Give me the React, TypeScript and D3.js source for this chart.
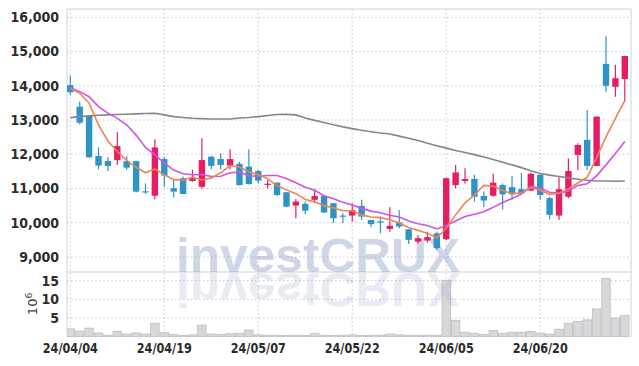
import React from "react";
import * as d3 from "d3";

const dates = [
  "24/04/04","24/04/05","24/04/08","24/04/09","24/04/11","24/04/12","24/04/15","24/04/16","24/04/17","24/04/18",
  "24/04/19","24/04/22","24/04/23","24/04/24","24/04/25","24/04/26","24/04/29","24/04/30","24/05/02","24/05/03",
  "24/05/07","24/05/08","24/05/09","24/05/10","24/05/13","24/05/14","24/05/16","24/05/17","24/05/20","24/05/21",
  "24/05/22","24/05/23","24/05/24","24/05/27","24/05/28","24/05/29","24/05/30","24/05/31","24/06/03","24/06/04",
  "24/06/05","24/06/07","24/06/10","24/06/11","24/06/12","24/06/13","24/06/14","24/06/17","24/06/18","24/06/19",
  "24/06/20","24/06/21","24/06/24","24/06/25","24/06/26","24/06/27","24/06/28","24/07/01","24/07/02","24/07/03",
];

const opens = [
  14020,13390,13120,11950,11800,11830,11800,11800,10920,10790,
  11860,11010,11300,11220,11050,11930,11860,11670,11720,11640,
  11510,11120,11170,10890,10500,10550,10670,10780,10570,10210,
  10210,10490,10080,10040,9820,10010,9810,9450,9480,9690,
  9520,11100,11220,11280,10780,10790,11100,11040,10980,10940,
  11400,10720,10210,10760,11980,12420,11660,14640,13970,14200,
];
const closes = [
  13810,12920,11910,11670,11660,12240,11610,10910,10900,12200,
  11380,10910,10840,11300,11830,11660,11690,11860,11100,11130,
  11230,11140,10810,10470,10620,10350,10780,10300,10130,10190,
  10370,10180,9960,10030,9910,9890,9500,9550,9580,9260,
  11300,11470,11280,10760,10650,11170,10830,10830,10860,11430,
  10810,10230,10980,11510,12270,11660,13100,14000,14220,14870,
];
const highs = [
  14310,13540,13150,12200,11910,12640,11950,11810,11150,12440,
  11930,11250,11350,11550,12470,11950,12030,12150,11780,12150,
  11540,11250,11180,10900,10700,10620,10980,10800,10580,10280,
  10570,10670,10090,10180,10450,10370,9820,9640,9740,9740,
  11320,11690,11590,11400,10910,11430,11150,11370,11450,11460,
  11420,10760,11330,11880,12320,13290,13100,15450,14610,14880,
];
const lows = [
  13730,12880,11900,11560,11510,11690,11540,10880,10840,10690,
  11050,10740,10840,11200,10990,11560,11560,11560,11090,11120,
  11150,11010,10780,10450,10130,10250,10570,10290,9990,9990,
  10040,10080,9870,9690,9740,9840,9380,9400,9420,9210,
  9500,11010,11150,10620,10450,10760,10390,10670,10810,10930,
  10670,10100,10080,10720,11540,11540,11650,13810,13680,13540,
];
// volume in millions
const volumes = [
  2.1,1.5,2.3,1.0,0.4,1.4,0.7,1.0,0.7,3.6,
  1.1,0.6,0.3,0.5,3.1,0.7,0.6,0.8,0.9,1.8,
  0.5,0.4,0.4,0.3,0.4,0.3,0.8,0.4,0.3,0.4,
  0.5,0.3,0.4,0.4,0.7,0.5,0.4,0.4,0.4,0.4,
  15.1,4.4,1.2,0.9,0.6,1.7,0.9,1.2,1.2,1.4,
  1.0,0.7,2.0,3.6,4.1,4.5,7.4,15.6,5.0,5.7,
];
const ma5 = [
  13930,13780,13490,12860,12390,12080,11820,11620,11460,11570,
  11400,11260,11250,11330,11250,11310,11460,11670,11630,11490,
  11400,11290,11080,10960,10850,10680,10610,10500,10440,10350,
  10350,10230,10170,10150,10090,9990,9860,9780,9690,9560,
  9840,10230,10580,10810,11090,11070,10940,10850,10870,11020,
  10950,10830,10860,10990,11160,11330,11900,12510,13050,13570,
];
const ma10 = [
  13950,13830,13680,13390,13200,13050,12860,12560,12200,11980,
  11740,11540,11430,11400,11410,11350,11360,11460,11480,11370,
  11360,11380,11380,11290,11170,11040,10950,10790,10700,10600,
  10520,10420,10340,10290,10220,10170,10050,9970,9920,9820,
  9920,10050,10180,10250,10320,10450,10590,10710,10840,11060,
  11010,10890,10860,10930,11090,11140,11370,11690,12020,12370,
];
const ma60 = [
  13070,13100,13120,13140,13150,13160,13170,13180,13190,13200,
  13150,13100,13075,13050,13040,13030,13030,13030,13060,13075,
  13100,13130,13160,13165,13150,13060,12990,12930,12860,12800,
  12750,12700,12660,12620,12590,12530,12470,12400,12320,12250,
  12180,12110,12050,11990,11920,11850,11770,11690,11610,11520,
  11440,11390,11350,11310,11270,11240,11220,11220,11210,11220,
];

const priceTicks = [9000, 10000, 11000, 12000, 13000, 14000, 15000, 16000];
const volTicks = [5, 10, 15];
const dateTickIdx = [0, 10, 20, 30, 40, 50];

const UP = "#e61c64";
const DOWN = "#2e94c6";
const FONT = "'Liberation Sans Narrow', 'DejaVu Sans Condensed', Roboto, sans-serif";

export default function App() {
  const L = 67, R = 631, T = 9, SEP = 272, B = 337;
  const x = d3.scaleLinear().domain([0, dates.length - 1]).range([70.3, 624.8]);
  const y = d3.scaleLinear().domain([9000, 16000]).range([257, 17.3]);
  const yv = d3.scaleLinear().domain([0, 15]).range([336.7, 280.6]);
  const step = x(1) - x(0);
  const bw = 6.4;
  const mk = (arr: number[]) =>
    d3.line<number>().x((_, i) => x(i)).y((d) => y(d))(arr) || "";

  const grid = "#c6c8dc";
  const dash = "1.5,2.5";

  return (
    <svg
      width={639}
      height={366}
      style={{ position: "fixed", left: 0, top: 0, background: "#fff" }}
      fontFamily={FONT}
    >
      <defs>
        <clipPath id="pc">
          <rect x={L} y={T} width={R - L} height={SEP - T} />
        </clipPath>
        <clipPath id="vc">
          <rect x={L} y={SEP} width={R - L} height={B - SEP} />
        </clipPath>
      </defs>
      {/* grid */}
      {priceTicks.map((p) => (
        <line key={"pg" + p} x1={L} x2={R} y1={y(p)} y2={y(p)} stroke={grid} strokeDasharray={dash} />
      ))}
      {volTicks.map((v) => (
        <line key={"vg" + v} x1={L} x2={R} y1={yv(v)} y2={yv(v)} stroke={grid} strokeDasharray={dash} />
      ))}
      {dateTickIdx.map((i) => (
        <line key={"xg" + i} x1={x(i)} x2={x(i)} y1={T} y2={B} stroke={grid} strokeDasharray={dash} />
      ))}
      {/* frame */}
      <line x1={L} x2={R} y1={T} y2={T} stroke="#d4d4d8" />
      <line x1={L} x2={L} y1={T} y2={B} stroke="#cfcfd6" />
      <line x1={R} x2={R} y1={T} y2={B} stroke="#d4d4d8" />
      <line x1={L} x2={R} y1={SEP} y2={SEP} stroke="#cfcfd6" />

      {/* watermark */}
      <text x={176} y={271.5} fontFamily="'Liberation Sans', Arial, sans-serif" fontWeight="bold"
        fontSize={49} textLength={284} lengthAdjust="spacingAndGlyphs" fill="#8a9ac4" opacity={0.4}>
        investCRUX
      </text>

      {/* volume */}
      <g clipPath="url(#vc)">
        {volumes.map((v, i) => (
          <rect key={"v" + i} x={x(i) - step / 2 + 0.5} width={step - 1} y={yv(v)} height={yv(0) - yv(v)}
            fill="#d8d8da" stroke="#bdbdc2" strokeWidth={0.8} />
        ))}
      </g>
      <text x={176} y={272.5} transform="translate(0,545) scale(1,-1)" fontFamily="'Liberation Sans', Arial, sans-serif"
        fontWeight="bold" fontSize={49} textLength={284} lengthAdjust="spacingAndGlyphs" fill="#9aa6cc" opacity={0.22}>
        investCRUX
      </text>

      {/* candles */}
      <g clipPath="url(#pc)">
        {dates.map((_, i) => {
          const up = closes[i] >= opens[i];
          const c = up ? UP : DOWN;
          const top = y(Math.max(opens[i], closes[i]));
          const bot = y(Math.min(opens[i], closes[i]));
          return (
            <g key={"c" + i}>
              <line x1={x(i)} x2={x(i)} y1={y(highs[i])} y2={y(lows[i])} stroke={c} strokeWidth={1.2} />
              <rect x={x(i) - bw / 2} width={bw} y={top} height={Math.max(1.2, bot - top)} fill={c} />
            </g>
          );
        })}
        <path d={mk(ma60)} fill="none" stroke="#868686" strokeWidth={1.6} />
        <path d={mk(ma10)} fill="none" stroke="#cc55e8" strokeWidth={1.6} />
        <path d={mk(ma5)} fill="none" stroke="#ef8450" strokeWidth={1.6} />
      </g>

      {/* axes labels */}
      {priceTicks.map((p) => (
        <text key={"pl" + p} x={59} y={y(p)} dy="0.35em" textAnchor="end" fontSize={14} fontWeight="bold" fill="#2b2b2b">
          {d3.format(",")(p)}
        </text>
      ))}
      {volTicks.map((v) => (
        <text key={"vl" + v} x={59} y={yv(v)} dy="0.35em" textAnchor="end" fontSize={14} fontWeight="bold" fill="#2b2b2b">
          {v}
        </text>
      ))}
      <text transform="translate(37,304) rotate(-90)" textAnchor="middle" fontSize={13} fill="#444"
        fontFamily="'DejaVu Sans', sans-serif">
        10<tspan dy={-5} fontSize={9}>6</tspan>
      </text>
      {dateTickIdx.map((i) => (
        <text key={"xl" + i} x={x(i)} y={353} textAnchor="middle" fontSize={14} fontWeight="bold" fill="#2b2b2b"
          textLength={55} lengthAdjust="spacingAndGlyphs">
          {dates[i]}
        </text>
      ))}
    </svg>
  );
}
